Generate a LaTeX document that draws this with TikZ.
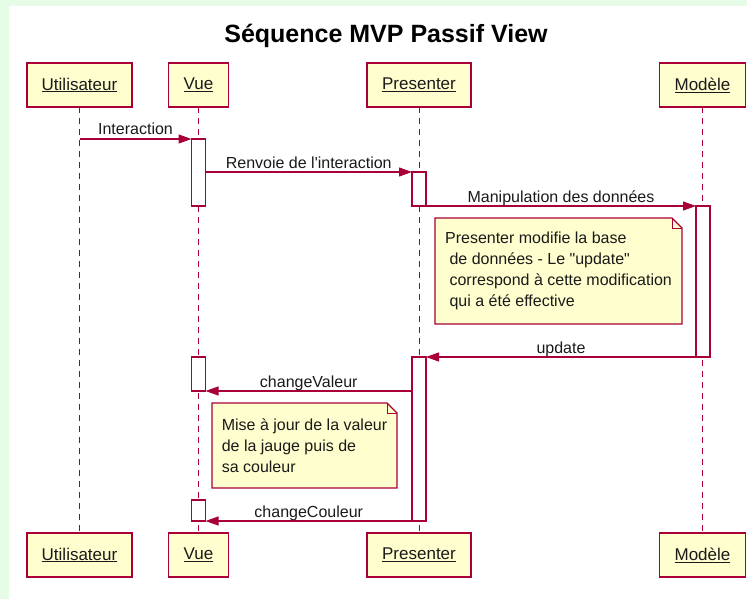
\documentclass[tikz,border=0pt]{standalone}
\usepackage{fontspec}
\setmainfont{Liberation Sans}
\usepackage{tikz}
\usetikzlibrary{arrows.meta, positioning, calc}
\definecolor{SeqLine}{HTML}{A80036}
\definecolor{SeqFill}{HTML}{FEFECE}
\definecolor{SeqBack}{HTML}{E6FCE6}
\definecolor{SeqInk}{HTML}{1A1A1A}

\begin{document}
\begin{tikzpicture}[
    x=1pt, y=-1pt,
    font=\fontsize{16}{21}\selectfont,
    actor/.style={
      draw=SeqLine,
      fill=SeqFill,
      line width=1.6pt,
      inner xsep=15pt,
      inner ysep=0pt,
      outer sep=0pt,
      minimum height=44pt,
      text=SeqInk,
      font=\fontsize{17}{20}\selectfont,
    },
    lifeline/.style={draw=SeqLine, line width=1pt, dash pattern=on 6pt off 5pt},
    bar/.style={draw=SeqLine, fill=white, line width=1.2pt, minimum width=14pt, inner sep=0pt, outer sep=0pt, anchor=north},
    msg/.style={draw=SeqLine, line width=1.2pt, -{Triangle[length=13pt,width=9pt]}},
    msglabel/.style={anchor=base, yshift=4pt, inner sep=0pt, text=SeqInk},
    note/.style={fill=SeqFill, inner xsep=8pt, inner ysep=0pt, outer sep=0pt, align=left, anchor=north west, text=SeqInk},
    noteline/.style={draw=SeqLine, line width=1.2pt, line join=miter},
  ]
    % page
    \fill[SeqBack] (0,0) rectangle (747,599);
    \fill[white] (9,6) rectangle (747,599);

    \node[font=\bfseries\fontsize{25}{30}\selectfont, text=black] (title) at (386,36) {Séquence MVP Passif View};

    % participants
    \node[actor] (uTop) at (79.5,85) {\underline{Utilisateur}};
    \node[actor] (vTop) at (198.5,85) {\underline{Vue}};
    \node[actor] (pTop) at (419,85) {\underline{Presenter}};
    \node[actor] (mTop) at (702.5,85) {\underline{Modèle}};
    \node[actor] (uBot) at (79.5,555) {\underline{Utilisateur}};
    \node[actor] (vBot) at (198.5,555) {\underline{Vue}};
    \node[actor] (pBot) at (419,555) {\underline{Presenter}};
    \node[actor] (mBot) at (702.5,555) {\underline{Modèle}};

    \foreach \who in {u,v,p,m}
      \draw[lifeline] (\who Top.south) -- (\who Bot.north);

    % activations
    \node[bar, minimum height=67pt] (vAct1) at (198.5,139) {};
    \node[bar, minimum height=34pt] (pAct1) at (419,172) {};
    \node[bar, minimum height=151pt] (mAct) at (703,206) {};
    \node[bar, minimum height=164pt] (pAct2) at (419,357) {};
    \node[bar, minimum height=34pt] (vAct2) at (198.5,357) {};
    \node[bar, minimum height=21pt] (vAct3) at (198.5,500) {};

    % messages
    \draw[msg] (uTop.south |- vAct1.north west) -- (vAct1.north west)
      node[msglabel, midway] {Interaction};
    \draw[msg] (vAct1.east |- pAct1.north west) -- (pAct1.north west)
      node[msglabel, midway] {Renvoie de l\textquotesingle interaction};
    \draw[msg] (pAct1.south east) -- (mAct.north west)
      node[msglabel, midway] {Manipulation des données};
    \draw[msg] (mAct.south west) -- (pAct2.north east)
      node[msglabel, midway] {update};
    \draw[msg] (pAct2.west |- vAct2.south east) -- (vAct2.south east)
      node[msglabel, midway] {changeValeur};
    \draw[msg] (pAct2.south west) -- (vAct3.south east)
      node[msglabel, midway] {changeCouleur};

    % notes
    \node[note, minimum width=247pt, minimum height=106pt] (noteBase) at (435,218) {%
      Presenter modifie la base\\
      \ de données - Le \textquotedbl update\textquotedbl\\
      \ correspond à cette modification\\
      \ qui a été effective};
    \node[note, minimum width=185pt, minimum height=85pt, inner xsep=9pt] (noteJauge) at (212,403) {%
      Mise à jour de la valeur\\
      de la jauge puis de\\
      sa couleur};
    \foreach \n in {noteBase,noteJauge} {
      \fill[white] ([xshift=-10pt]\n.north east) -- (\n.north east) -- ([yshift=-10pt]\n.north east) -- cycle;
      \draw[noteline] (\n.south west) -- (\n.north west) -- ([xshift=-10pt]\n.north east)
        -- ([yshift=-10pt]\n.north east) -- (\n.south east) -- cycle;
      \draw[noteline, line width=1pt] ([xshift=-10pt]\n.north east) |- ([yshift=-10pt]\n.north east);
    }
\end{tikzpicture}
\end{document}
